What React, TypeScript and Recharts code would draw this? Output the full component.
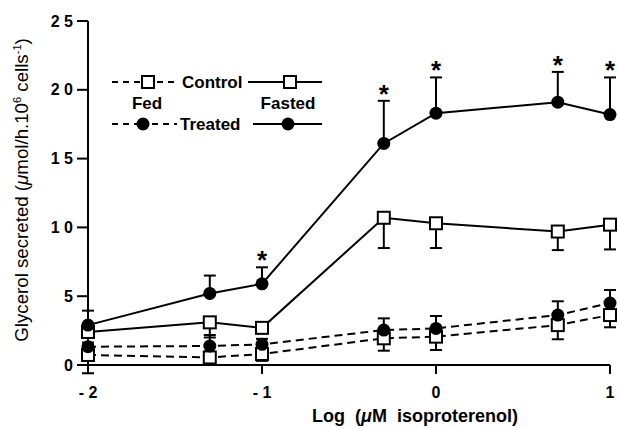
import React from 'react';
import { ComposedChart, Line, Scatter, XAxis, YAxis, ErrorBar } from 'recharts';

// log10 of isoproterenol concentration (uM)
const doses = [-2, -1.3, -1, -0.3, 0, 0.7, 1];
const xTicks = [-2, -1, 0, 1];
const yTicks = [0, 5, 10, 15, 20, 25];

// glycerol secreted, umol/h.10^6 cells
const controlFed = [0.73, 0.55, 0.8, 1.94, 2.06, 2.9, 3.63];
const controlFedErr = [1.33, 0.55, 0.5, 0.9, 0.97, 1.03, 0.89];
const controlFasted = [2.4, 3.1, 2.7, 10.7, 10.3, 9.7, 10.2];
const controlFastedErr = [0.3, 1.1, 0.3, 2.2, 1.8, 1.35, 1.8];
const treatedFed = [1.33, 1.38, 1.5, 2.54, 2.66, 3.63, 4.5];
const treatedFedErr = [0.3, 0.8, 0.4, 0.85, 0.9, 1.0, 0.95];
const treatedFasted = [2.9, 5.2, 5.9, 16.1, 18.3, 19.1, 18.2];
const treatedFastedErr = [1.05, 1.3, 1.2, 3.1, 2.6, 2.2, 2.7];
const significant = [false, false, true, true, true, true, true];

const data = doses.map((x, i) => ({
  x,
  cFed: controlFed[i],
  cFedErr: [controlFedErr[i], 0],
  cFasted: controlFasted[i],
  cFastedErr: [controlFastedErr[i], 0],
  tFed: treatedFed[i],
  tFedErr: [0, treatedFedErr[i]],
  tFasted: treatedFasted[i],
  tFastedErr: [0, treatedFastedErr[i]],
}));

const starData = doses
  .map((x, i) => ({ x, top: treatedFasted[i] + treatedFastedErr[i], sig: significant[i] }))
  .filter((d) => d.sig);

const font = '"Liberation Sans", Arial, Helvetica, sans-serif';

const fmtX = (v: number) => (v < 0 ? `- ${-v}` : `${v}`);
const fmtY = (v: number) => String(v).split('').join(' ');

const Square = (props: any) => {
  const { cx, cy, index } = props;
  if (cx == null || cy == null) return null;
  return <rect key={`sq-${index}`} x={cx - 6} y={cy - 6} width={12} height={12} fill="#fff" stroke="#000" strokeWidth={2} />;
};

const Disc = (props: any) => {
  const { cx, cy, index } = props;
  if (cx == null || cy == null) return null;
  return <circle key={`dc-${index}`} cx={cx} cy={cy} r={6.5} fill="#000" />;
};

const StarMark = (props: any) => {
  const { cx, cy } = props;
  if (cx == null || cy == null) return null;
  return (
    <text x={cx} y={cy + 2} textAnchor="middle" fontSize={26} fontWeight="bold" fontFamily={font} fill="#000">
      *
    </text>
  );
};

const Overlay = () => (
  <svg width={618} height={429} style={{ position: 'absolute', left: 0, top: 0, pointerEvents: 'none' }} fontFamily={font}>
    {/* y axis title */}
    <text x={28} y={190} transform="rotate(-90 28 190)" textAnchor="middle" fontSize={18.7} fill="#000">
      Glycerol secreted (<tspan fontStyle="italic">μ</tspan>mol/h.10
      <tspan fontSize={11} dy={-7}>6</tspan>
      <tspan dy={7}> cells</tspan>
      <tspan fontSize={11} dy={-7}>-1</tspan>
      <tspan dy={7}>)</tspan>
    </text>
    {/* x axis title */}
    <text x={415} y={422} textAnchor="middle" fontSize={18} fontWeight="bold" fill="#000" style={{ whiteSpace: 'pre' }}>
      {'Log  ('}<tspan fontStyle="italic">μ</tspan>{'M  isoproterenol)'}
    </text>
    {/* legend */}
    <g stroke="#000" strokeWidth={2}>
      <line x1={112} y1={82} x2={142} y2={82} strokeDasharray="6 5" />
      <line x1={157} y1={82} x2={177} y2={82} strokeDasharray="6 5" />
      <line x1={248} y1={82} x2={322} y2={82} />
      <line x1={112} y1={124} x2={137} y2={124} strokeDasharray="6 5" />
      <line x1={152} y1={124} x2={177} y2={124} strokeDasharray="6 5" />
      <line x1={253} y1={124} x2={322} y2={124} />
    </g>
    <rect x={142} y={76} width={12} height={12} fill="#fff" stroke="#000" strokeWidth={2} />
    <rect x={284} y={76} width={12} height={12} fill="#fff" stroke="#000" strokeWidth={2} />
    <circle cx={143} cy={124} r={6.5} fill="#000" />
    <circle cx={288} cy={124} r={6.5} fill="#000" />
    <g fontSize={17} fontWeight="bold" fill="#000">
      <text x={182} y={88}>Control</text>
      <text x={147} y={109} textAnchor="middle">Fed</text>
      <text x={288} y={109} textAnchor="middle">Fasted</text>
      <text x={180} y={130}>Treated</text>
    </g>
  </svg>
);

export default function App() {
  return (
    <div style={{ position: 'absolute', left: 0, top: 0, width: 618, height: 429, background: '#fff' }}>
      {/* keep the exact 0-25 domain without clipping the edge markers */}
      <style>{'.recharts-wrapper [clip-path] { clip-path: none !important; }'}</style>
      <ComposedChart width={618} height={429} data={data} margin={{ top: 21, right: 8, bottom: 34, left: 28 }}>
        <XAxis
          type="number"
          dataKey="x"
          domain={[-2, 1]}
          ticks={xTicks}
          interval={0}
          tickFormatter={fmtX}
          height={30}
          tickSize={9}
          tickMargin={13}
          axisLine={{ stroke: '#000', strokeWidth: 2 }}
          tickLine={{ stroke: '#000', strokeWidth: 2 }}
          tick={{ fill: '#000', fontSize: 16, fontWeight: 'bold', fontFamily: font }}
        />
        <YAxis
          type="number"
          domain={[0, 25]}
          allowDataOverflow
          ticks={yTicks}
          interval={0}
          tickFormatter={fmtY}
          width={60}
          tickSize={11}
          tickMargin={4}
          axisLine={{ stroke: '#000', strokeWidth: 2 }}
          tickLine={{ stroke: '#000', strokeWidth: 2 }}
          tick={{ fill: '#000', fontSize: 16, fontWeight: 'bold', fontFamily: font }}
        />
        <Line dataKey="cFed" stroke="#000" strokeWidth={2} strokeDasharray="8 5" dot={Square} activeDot={false} isAnimationActive={false}>
          <ErrorBar dataKey="cFedErr" direction="y" width={6} stroke="#000" strokeWidth={2} />
        </Line>
        <Line dataKey="tFed" stroke="#000" strokeWidth={2} strokeDasharray="8 5" dot={Disc} activeDot={false} isAnimationActive={false}>
          <ErrorBar dataKey="tFedErr" direction="y" width={6} stroke="#000" strokeWidth={2} />
        </Line>
        <Line dataKey="cFasted" stroke="#000" strokeWidth={2} dot={Square} activeDot={false} isAnimationActive={false}>
          <ErrorBar dataKey="cFastedErr" direction="y" width={6} stroke="#000" strokeWidth={2} />
        </Line>
        <Line dataKey="tFasted" stroke="#000" strokeWidth={2} dot={Disc} activeDot={false} isAnimationActive={false}>
          <ErrorBar dataKey="tFastedErr" direction="y" width={6} stroke="#000" strokeWidth={2} />
        </Line>
        <Scatter data={starData} dataKey="top" shape={StarMark} isAnimationActive={false} />
      </ComposedChart>
      <Overlay />
    </div>
  );
}
